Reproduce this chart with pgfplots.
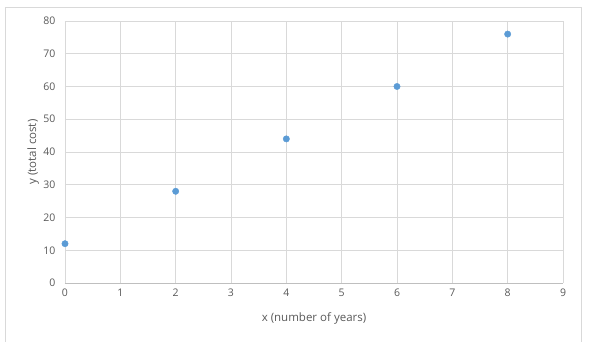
\documentclass[border=0pt]{standalone}
\usepackage{pgfplots}
\pgfplotsset{compat=1.18}
\usepackage{fontspec}
\setmainfont{Open Sans}
\definecolor{gridc}{HTML}{D9D9D9}
\definecolor{axc}{HTML}{BFBFBF}
\definecolor{txt}{HTML}{595959}
\definecolor{ptc}{HTML}{5B9BD5}
\begin{document}
\begin{tikzpicture}
\begin{axis}[
  name=ax,
  scale only axis, width=498pt, height=262pt,
  xmin=0, xmax=9, ymin=0, ymax=80,
  xtick={0,...,9}, ytick={0,10,...,80},
  grid=major,
  major grid style={gridc, line width=0.8pt},
  axis line style={gridc, line width=0.8pt},
  axis x line*=bottom,
  axis y line*=left,
  x axis line style={axc},
  tick style={draw=none},
  ticklabel style={font=\fontsize{10.5}{12}\selectfont, text=txt},
  /pgf/number format/assume math mode=true,
  xticklabel style={yshift=-2pt},
  yticklabel style={xshift=-6pt},
  xlabel={x (number of years)},
  ylabel={y (total cost)},
  label style={font=\fontsize{11.5}{13}\selectfont, text=txt},
  xlabel style={at={(axis description cs:0.5,-0.137)}, anchor=center},
  ylabel style={at={(axis description cs:-0.064,0.5)}, anchor=center},
  clip=false,
]
\addplot[only marks, mark=*, mark size=3.2pt, mark options={fill=ptc, draw=ptc}] coordinates {
  (0,12) (2,28) (4,44) (6,60) (8,76)
};
\end{axis}
\path[use as bounding box] ([xshift=-65pt,yshift=-69pt]ax.south west) rectangle ([xshift=31pt,yshift=21pt]ax.north east);
\draw[gridc, line width=0.8pt] ([xshift=-59.5pt,yshift=-59pt]ax.south west) -- ([xshift=-59.5pt,yshift=14pt]ax.north west) -- ([xshift=18.5pt,yshift=14pt]ax.north east) -- ([xshift=18.5pt,yshift=-59pt]ax.south east);
\end{tikzpicture}
\end{document}
